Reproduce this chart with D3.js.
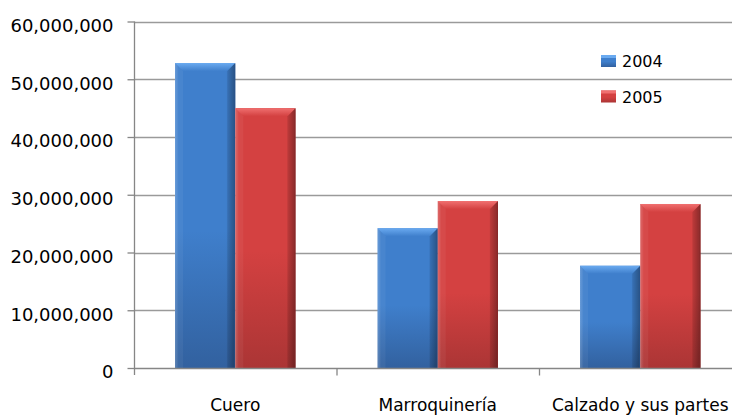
<!DOCTYPE html>
<html>
<head>
<meta charset="utf-8">
<script src="https://cdn.jsdelivr.net/npm/d3@7"></script>
<style>
  html, body { margin: 0; padding: 0; background: #fff; }
  svg { display: block; }
  text { font-family: "DejaVu Sans", sans-serif; fill: #000; }
</style>
</head>
<body>
<svg id="chart" width="732" height="416"></svg>
<script>
// Exports by product group, 2004 vs 2005
const categories = ["Cuero", "Marroquinería", "Calzado y sus partes"];
const seriesNames = ["2004", "2005"];
const values2004 = [52800000, 24200000, 17700000];
const values2005 = [45000000, 28900000, 28400000];
const yTicks = [0, 10000000, 20000000, 30000000, 40000000, 50000000, 60000000];

const palette = {
  "2004": { base: "#3f7fcc", light: "#6aaaf0", dark: "#32619f", edge: "#2a5590" },
  "2005": { base: "#d44141", light: "#f07070", dark: "#ab3535", edge: "#862828" }
};

const svg = d3.select("#chart");
const W = 732, H = 416;
const plot = { left: 134, right: 741.5, top: 21.5, bottom: 368 };

const y = d3.scaleLinear().domain([0, 60000000]).range([plot.bottom, plot.top]);
const x0 = d3.scaleBand().domain(categories).range([plot.left, plot.right]).padding(0);
const groupW = x0.step() * 0.595;
const x1 = d3.scaleBand().domain(seriesNames)
  .range([(x0.step() - groupW) / 2, (x0.step() + groupW) / 2]).padding(0);

const defs = svg.append("defs");
seriesNames.forEach(s => {
  const c = palette[s];
  const v = defs.append("linearGradient").attr("id", "v" + s)
    .attr("x1", 0).attr("y1", 0).attr("x2", 0).attr("y2", 1);
  v.append("stop").attr("offset", 0).attr("stop-color", c.base);
  v.append("stop").attr("offset", 0.55).attr("stop-color", c.base);
  v.append("stop").attr("offset", 1).attr("stop-color", c.dark);
  const h = defs.append("linearGradient").attr("id", "h" + s)
    .attr("x1", 0).attr("y1", 0).attr("x2", 1).attr("y2", 0);
  h.append("stop").attr("offset", 0).attr("stop-color", "#ffffff").attr("stop-opacity", 0.18);
  h.append("stop").attr("offset", 0.06).attr("stop-color", "#ffffff").attr("stop-opacity", 0);
  h.append("stop").attr("offset", 0.85).attr("stop-color", "#000000").attr("stop-opacity", 0);
  h.append("stop").attr("offset", 1).attr("stop-color", "#000000").attr("stop-opacity", 0.3);
  const t = defs.append("linearGradient").attr("id", "t" + s)
    .attr("x1", 0).attr("y1", 0).attr("x2", 0).attr("y2", 1);
  t.append("stop").attr("offset", 0).attr("stop-color", c.light);
  t.append("stop").attr("offset", 1).attr("stop-color", c.base);
});

// Gridlines
svg.append("g").selectAll("line").data(yTicks.filter(d => d > 0)).join("line")
  .attr("x1", plot.left).attr("x2", W)
  .attr("y1", d => Math.round(y(d)) + 0.5).attr("y2", d => Math.round(y(d)) + 0.5)
  .attr("stroke", "#9a9a9a").attr("stroke-width", 1.3);

// Y axis
const yAxis = svg.append("g")
  .attr("transform", `translate(${plot.left + 0.5},0)`)
  .call(d3.axisLeft(y).tickValues(yTicks).tickSize(7).tickPadding(14)
    .tickFormat(d3.format(",")));
yAxis.select(".domain").attr("stroke", "#868686").attr("stroke-width", 1.3)
  .attr("d", `M0,${plot.top}V${plot.bottom + 7}`);
yAxis.selectAll(".tick line").attr("stroke", "#868686").attr("stroke-width", 1.3);
yAxis.selectAll(".tick text")
  .attr("font-size", 18).attr("font-family", "DejaVu Sans, sans-serif")
  .attr("fill", "#000").attr("dy", "0.55em");

// Bars
const data = categories.map((c, i) => ({ cat: c, vals: [
  { s: "2004", v: values2004[i] }, { s: "2005", v: values2005[i] } ] }));

const groups = svg.append("g").selectAll("g").data(data).join("g")
  .attr("transform", d => `translate(${x0(d.cat)},0)`);

const bars = groups.selectAll("g").data(d => d.vals).join("g");
bars.each(function(d) {
  const g = d3.select(this);
  const bx = x1(d.s), bw = x1.bandwidth();
  const top = y(d.v), bottom = y(0), bh = bottom - top;
  const c = palette[d.s];
  g.append("rect").attr("x", bx).attr("y", top).attr("width", bw).attr("height", bh)
    .attr("fill", `url(#v${d.s})`);
  g.append("rect").attr("x", bx).attr("y", top).attr("width", bw).attr("height", bh)
    .attr("fill", `url(#h${d.s})`);
  const b = 8;
  g.append("path")
    .attr("d", `M${bx},${top}H${bx + bw}L${bx + bw - b},${top + b}H${bx + b}Z`)
    .attr("fill", `url(#t${d.s})`);
  g.append("path")
    .attr("d", `M${bx + bw},${top}L${bx + bw - b},${top + b}V${bottom}H${bx + bw}Z`)
    .attr("fill", "#000").attr("fill-opacity", 0.08);
  g.append("path")
    .attr("d", `M${bx},${top}L${bx + b},${top + b}V${bottom}H${bx}Z`)
    .attr("fill", "#fff").attr("fill-opacity", 0.05);
  g.append("line").attr("x1", bx + bw - 0.5).attr("x2", bx + bw - 0.5)
    .attr("y1", top + 1).attr("y2", bottom).attr("stroke", c.edge).attr("stroke-opacity", 0.6);
});

// X axis
const xAxis = svg.append("g").attr("transform", `translate(0,${plot.bottom + 0.5})`);
xAxis.append("line").attr("x1", plot.left).attr("x2", W).attr("y1", 0).attr("y2", 0)
  .attr("stroke", "#868686").attr("stroke-width", 1.3);
xAxis.selectAll("line.tick").data(categories.slice(1)).join("line").attr("class", "tick")
  .attr("x1", d => x0(d) + 0.5).attr("x2", d => x0(d) + 0.5)
  .attr("y1", 0).attr("y2", 7).attr("stroke", "#868686").attr("stroke-width", 1.3);
xAxis.selectAll("text").data(categories).join("text")
  .attr("x", d => x0(d) + x0.bandwidth() / 2).attr("y", 42)
  .attr("text-anchor", "middle").attr("font-size", 17).text(d => d);

// Legend
const legend = svg.append("g").selectAll("g").data(seriesNames).join("g")
  .attr("transform", (d, i) => `translate(601,${67 + i * 35.5})`);
legend.append("rect").attr("x", 0).attr("y", -12).attr("width", 15).attr("height", 12)
  .attr("fill", d => `url(#v${d})`);
legend.append("rect").attr("x", 0).attr("y", -12).attr("width", 15).attr("height", 3)
  .attr("fill", d => palette[d].light);
legend.append("text").attr("x", 21).attr("y", 0).attr("font-size", 16).text(d => d);
</script>
</body>
</html>
